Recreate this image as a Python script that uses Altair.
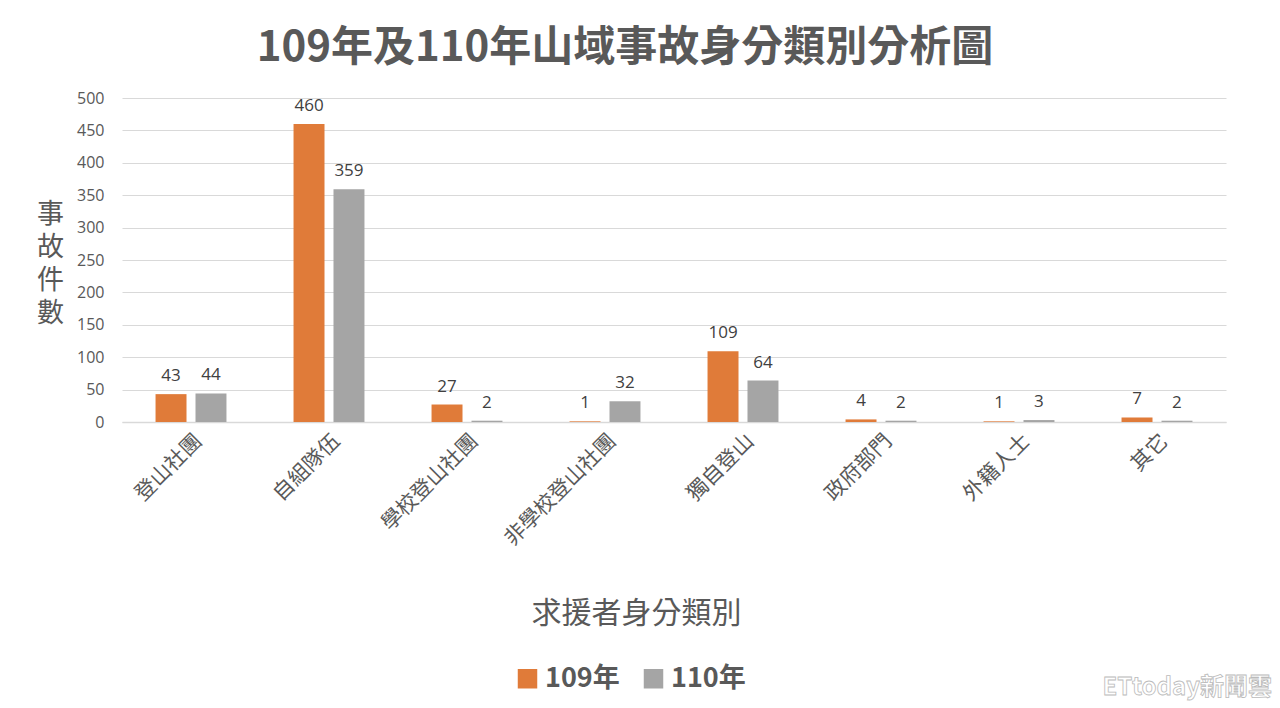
import altair as alt
import pandas as pd

categories = ["登山社團", "自組隊伍", "學校登山社團", "非學校登山社團", "獨自登山", "政府部門", "外籍人士", "其它"]
v109 = [43, 460, 27, 1, 109, 4, 1, 7]
v110 = [44, 359, 2, 32, 64, 2, 3, 2]
series = ["109年", "110年"]
colors = ["#E07B39", "#A5A5A5"]
yticks = [0, 50, 100, 150, 200, 250, 300, 350, 400, 450, 500]

rows = []
for c, a, b in zip(categories, v109, v110):
    rows.append({"cat": c, "series": series[0], "value": a})
    rows.append({"cat": c, "series": series[1], "value": b})
df = pd.DataFrame(rows)

FONT = "Noto Sans CJK TC"
TXT = "#595959"

x = alt.X("cat:N", sort=categories,
          scale=alt.Scale(paddingInner=0.486, paddingOuter=0.243),
          axis=alt.Axis(title="求援者身分類別", labelAngle=-45, labelFontSize=21,
                        labelColor=TXT, labelFont=FONT, labelPadding=8,
                        ticks=False, domainColor="#D9D9D9", domainWidth=1.5,
                        titleFontSize=30, titleFont=FONT, titleColor=TXT,
                        titleFontWeight="normal", titleX=514, titleY=191,
                        titleBaseline="middle"))
xo = alt.XOffset("series:N", sort=series, scale=alt.Scale(paddingInner=0.225, paddingOuter=0))
y = alt.Y("value:Q", scale=alt.Scale(domain=[0, 500]),
          axis=alt.Axis(values=yticks, labelOverlap=False,
                        title=["事", "故", "件", "數"],
                        titleAngle=0, titleFontSize=27, titleFont=FONT, titleColor=TXT,
                        titleFontWeight="normal", titleLineHeight=33,
                        titleX=-72, titleY=103, titleBaseline="top", titleAlign="center",
                        labelFontSize=16, labelColor=TXT, labelFont="Open Sans",
                        labelPadding=18, ticks=False, domain=False,
                        gridColor="#D9D9D9", gridWidth=1.2))
color = alt.Color("series:N", sort=series, scale=alt.Scale(domain=series, range=colors),
                  legend=alt.Legend(title=None, orient="none", direction="horizontal",
                                    legendX=392, legendY=567, symbolType="square",
                                    symbolSize=380, symbolStrokeWidth=0,
                                    labelFontSize=27, labelFontWeight="bold",
                                    labelFont=FONT, labelColor=TXT, columnPadding=20,
                                    labelOffset=4))

base = alt.Chart(df)
bars = base.mark_bar().encode(x=x, xOffset=xo, y=y, color=color)
labels = base.mark_text(dy=-18, fontSize=17, font="Open Sans", color="#404040").encode(
    x=x, xOffset=xo, y=y, text="value:Q")

wm = alt.Chart(pd.DataFrame({"t": ["ETtoday新聞雲"]})).mark_text(
    fontSize=24, font="Noto Sans CJK TC", fontWeight="bold", color="#FFFFFF",
    stroke="#BBBBBB", strokeWidth=0.8, align="right", baseline="middle").encode(
    text="t:N", x=alt.value(1150), y=alt.value(590))

chart = alt.layer(bars, labels, wm).properties(
    width=1104, height=324, background="white",
    title=alt.TitleParams("109年及110年山域事故身分類別分析圖", fontSize=42, font=FONT,
                          fontWeight="bold", color=TXT, dx=-49, offset=20, anchor="middle"),
    autosize=alt.AutoSizeParams(type="none"),
    padding={"left": 122, "top": 98, "right": 54, "bottom": 286},
).configure_view(stroke=None, strokeWidth=0)

chart.save("out.html", embed_options={"renderer": "svg", "actions": False})
